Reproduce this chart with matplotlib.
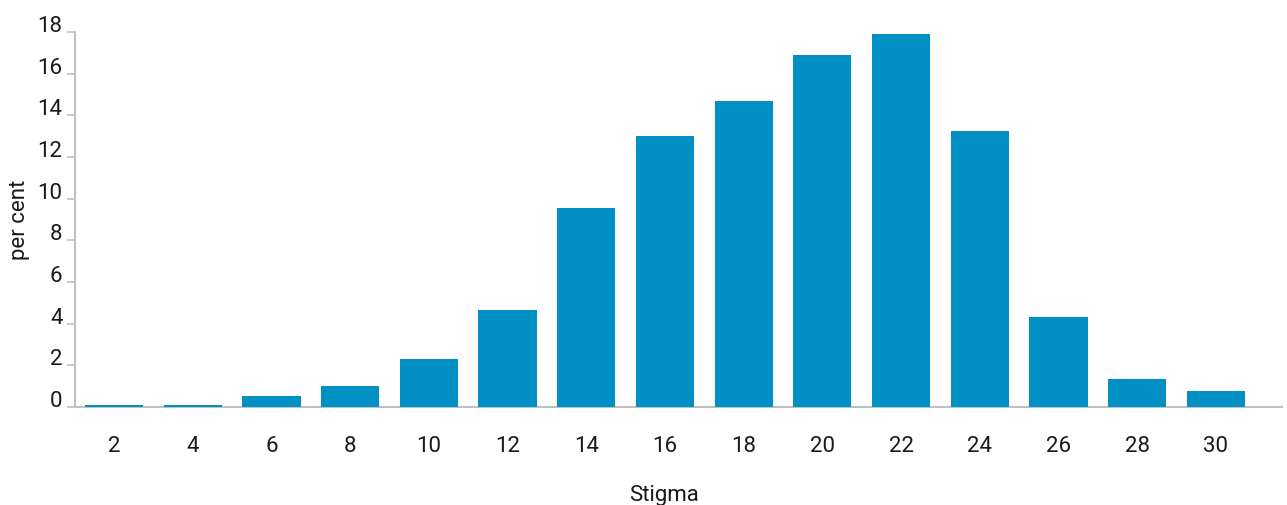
import numpy as np
import matplotlib
matplotlib.use('Agg')
import matplotlib.pyplot as plt
import matplotlib.transforms as mtransforms

plt.rcParams['font.family'] = ['Roboto', 'DejaVu Sans']

# datos del grafico
stigma = ['2', '4', '6', '8', '10', '12', '14', '16', '18', '20', '22', '24', '26', '28', '30']
percent = [0.12, 0.12, 0.53, 1.0, 2.3, 4.65, 9.55, 13.0, 14.7, 16.9, 17.9, 13.25, 4.32, 1.34, 0.77]
yticks = [0, 2, 4, 6, 8, 10, 12, 14, 16, 18]

fig = plt.figure(figsize=(12.87, 5.05), dpi=100)
ax = fig.add_axes([75/1287, 1 - 407/505, (1282 - 75)/1287, (407 - 32)/505])

x = np.arange(len(stigma))
ax.bar(x, percent, width=0.74, color='#0090c4', edgecolor='none', zorder=3)

ax.set_xlim(-0.4955, 14.84)
ax.set_ylim(0, 18)
ax.set_xticks(x)
ax.set_xticklabels(stigma)
ax.set_yticks(yticks)

for s in ['top', 'right']:
    ax.spines[s].set_visible(False)
for s in ['left', 'bottom']:
    ax.spines[s].set_color('#c0c0c0')
    ax.spines[s].set_linewidth(1.5)

ax.tick_params(axis='x', length=0, pad=21, labelsize=16, labelcolor='#1a1a1a')
ax.tick_params(axis='y', length=6, width=1.2, color='#c0c0c0', pad=3, labelsize=16, labelcolor='#1a1a1a')

# etiquetas y un poco por encima de la marca
off = mtransforms.ScaledTranslation(0, 8/100, fig.dpi_scale_trans)
for lab in ax.get_yticklabels():
    lab.set_transform(lab.get_transform() + off)

ax.set_xlabel('Stigma', fontsize=16, color='#1a1a1a')
ax.xaxis.set_label_coords((664.5 - 75)/1207, -(497 - 407 + 4)/375)
ax.xaxis.label.set_va('baseline')
ax.set_ylabel('per cent', fontsize=16, color='#1a1a1a')
ax.yaxis.set_label_coords(-(75 - 19)/1207, 0.5)
ax.yaxis.label.set_va('center')

fig.savefig('out.png', dpi=100)
